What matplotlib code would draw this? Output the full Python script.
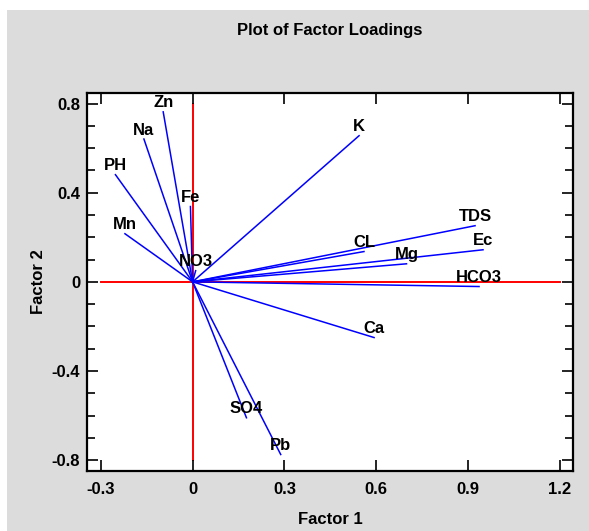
import matplotlib
matplotlib.use("Agg")
import matplotlib.pyplot as plt
from matplotlib import font_manager
from matplotlib.patches import Rectangle
from matplotlib.ticker import MultipleLocator

names = {f.name for f in font_manager.fontManager.ttflist}
fam = "Liberation Sans Narrow" if "Liberation Sans Narrow" in names else "Liberation Sans"
plt.rcParams["font.family"] = [fam, "DejaVu Sans"]
plt.rcParams["font.weight"] = "bold"

# factor loadings
variables = ["Zn", "Na", "PH", "Mn", "Fe", "NO3", "K", "TDS", "CL", "Ec",
             "Mg", "HCO3", "Ca", "SO4", "Pb"]
factor1 = [-0.096, -0.159, -0.252, -0.221, -0.007, 0.010, 0.544, 0.923, 0.560,
           0.949, 0.699, 0.936, 0.593, 0.176, 0.288]
factor2 = [0.763, 0.641, 0.481, 0.216, 0.338, 0.050, 0.656, 0.252, 0.136,
           0.144, 0.081, -0.021, -0.250, -0.610, -0.775]

fig = plt.figure(figsize=(5.89, 5.31), dpi=100)
fig.patch.set_facecolor("white")
bg = Rectangle((7 / 589, 0), 1, 1 - 10 / 531, transform=fig.transFigure,
               facecolor="#dcdcdc", edgecolor="none", zorder=-10)
fig.add_artist(bg)

ax = fig.add_axes([87.3 / 589, 1 - 471 / 531, (572.7 - 87.3) / 589, (471 - 92.7) / 531])
ax.set_zorder(1)
ax.set_facecolor("white")

# reference axes in red
ax.plot([-0.3, 1.2], [0, 0], color="red", lw=1.4, zorder=1)
ax.plot([0, 0], [-0.8, 0.8], color="red", lw=1.4, zorder=1)

for name, x, y in zip(variables, factor1, factor2):
    ax.plot([0, x], [0, y], color="blue", lw=1.1, zorder=2)
    ax.annotate(name, (x, y), xytext=(0, 1), textcoords="offset points",
                ha="center", va="bottom", fontsize=12, fontweight="bold", zorder=3)

ax.set_xlim(-0.344, 1.242)
ax.set_ylim(-0.849, 0.849)
ax.set_xticks([-0.3, 0, 0.3, 0.6, 0.9, 1.2])
ax.set_xticklabels(["-0.3", "0", "0.3", "0.6", "0.9", "1.2"])
ax.set_yticks([-0.8, -0.4, 0, 0.4, 0.8])
ax.set_yticklabels(["-0.8", "-0.4", "0", "0.4", "0.8"])
ax.yaxis.set_minor_locator(MultipleLocator(0.1))
ax.tick_params(which="both", direction="in", top=True, right=True, width=1.2,
               labelsize=12)
ax.tick_params(axis="x", pad=8)
ax.tick_params(axis="y", pad=5)
ax.tick_params(which="major", length=8)
ax.tick_params(which="minor", length=6)
for s in ax.spines.values():
    s.set_linewidth(1.6)

ax.set_xlabel("Factor 1", fontsize=12, fontweight="bold", labelpad=11)
ax.set_ylabel("Factor 2", fontsize=12, fontweight="bold", labelpad=4)
fig.text(330 / 589, 1 - 30 / 531, "Plot of Factor Loadings", ha="center", va="center",
         fontsize=12, fontweight="bold")

fig.savefig("out.png", dpi=100, facecolor=fig.get_facecolor())
